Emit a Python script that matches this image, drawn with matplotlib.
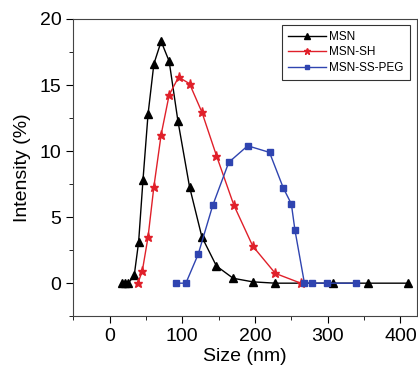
import matplotlib
matplotlib.use("Agg")
import matplotlib.pyplot as plt
from matplotlib.ticker import MultipleLocator

plt.rcParams['font.family'] = ['Liberation Sans', 'DejaVu Sans']

# size (nm) / intensity (%)
msn_x = [17, 21, 26, 34, 40, 46, 53, 61, 71, 82, 94, 110, 127, 147, 170, 197, 228, 307, 355, 411]
msn_y = [0, 0, 0, 0.6, 3.1, 7.8, 12.8, 16.6, 18.3, 16.8, 12.3, 7.3, 3.5, 1.3, 0.37, 0.1, 0, 0, 0, 0]

sh_x = [39, 45, 53, 61, 71, 82, 95, 110, 127, 147, 171, 197, 228, 263]
sh_y = [0, 0.9, 3.5, 7.3, 11.25, 14.25, 15.6, 15.1, 12.95, 9.66, 5.9, 2.8, 0.74, 0]

peg_x = [92, 105, 122, 142, 164, 190, 220, 239, 250, 255, 268, 278, 299, 339]
peg_y = [0, 0, 2.2, 5.9, 9.15, 10.4, 9.9, 7.2, 6.0, 4.0, 0, 0, 0, 0]

fig = plt.figure(figsize=(4.18, 3.72), dpi=100)
ax = fig.add_axes([0.175, 0.150, 0.823, 0.799])

ax.plot(msn_x, msn_y, color="black", lw=1, marker="^", ms=5.2, label="MSN")
ax.plot(sh_x, sh_y, color="#e0202a", lw=1, marker="*", ms=6.5, label="MSN-SH")
ax.plot(peg_x, peg_y, color="#2f44b0", lw=1, marker="s", ms=4.2, label="MSN-SS-PEG")

ax.set_xlim(-50, 423)
ax.set_ylim(-2.5, 20)
ax.xaxis.set_major_locator(MultipleLocator(100))
ax.xaxis.set_minor_locator(MultipleLocator(50))
ax.yaxis.set_major_locator(MultipleLocator(5))
ax.yaxis.set_minor_locator(MultipleLocator(2.5))
ax.tick_params(which="both", direction="out", labelsize=14)
ax.tick_params(which="major", length=5)
ax.tick_params(which="minor", length=3)
for s in ax.spines.values():
    s.set_color("#444444")
    s.set_linewidth(0.8)

ax.set_xlabel("Size (nm)", fontsize=14, labelpad=2)
ax.set_ylabel("Intensity (%)", fontsize=14, labelpad=6)

leg = ax.legend(loc="upper right", fontsize=8.5, fancybox=False, edgecolor="black",
                handlelength=3.2, handletextpad=0.3, borderpad=0.5, labelspacing=0.3,
                markerscale=0.7, bbox_to_anchor=(0.995, 1.0))
leg.get_frame().set_linewidth(0.8)

fig.savefig("out.png", dpi=100)
